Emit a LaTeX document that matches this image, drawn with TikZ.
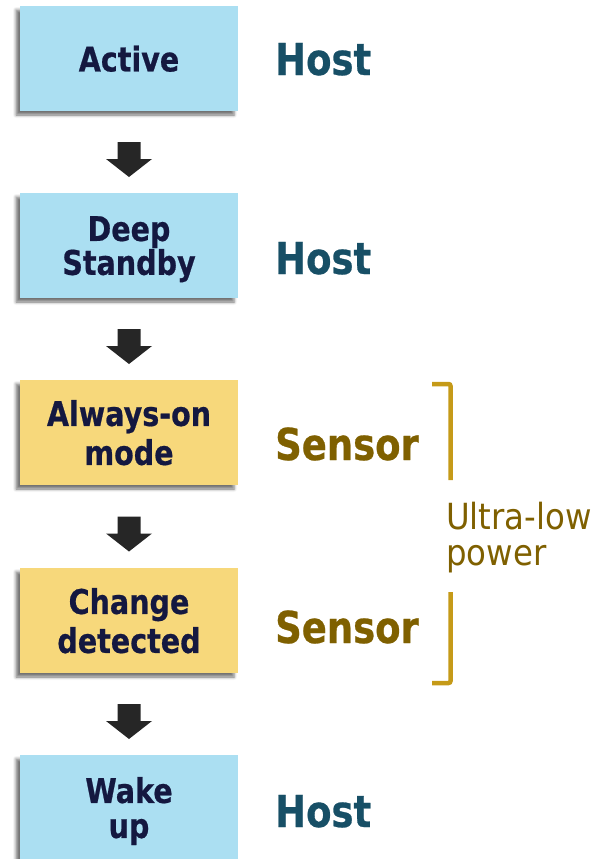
\documentclass[tikz,border=0pt]{standalone}
\usepackage{fontspec}
\setmainfont[FakeStretch=0.84, BoldFeatures={FakeBold=0.6}]{DejaVu Sans}
\newfontfamily\regfont[FakeStretch=0.9]{DejaVu Sans}
\usetikzlibrary{calc,shadows.blur}
\definecolor{boxblue}{HTML}{ABDFF2}
\definecolor{boxyellow}{HTML}{F7D87B}
\definecolor{boxtext}{HTML}{141840}
\definecolor{hostcol}{HTML}{174F66}
\definecolor{sensorcol}{HTML}{7F6000}
\definecolor{bracketcol}{HTML}{C59A18}
\definecolor{arrowcol}{HTML}{262626}
\tikzset{
  stagebox/.style={minimum width=218pt, minimum height=105pt, inner sep=0pt,
    align=center, text=boxtext, text depth=0pt, font=\bfseries\fontsize{34}{#1}\selectfont,
    blur shadow={shadow xshift=-4pt, shadow yshift=-4pt, shadow blur radius=3pt, shadow opacity=55}},
  hostbox/.style={stagebox=#1, fill=boxblue},
  sensbox/.style={stagebox=#1, fill=boxyellow},
  rolehost/.style={anchor=base west, inner sep=0pt, text=hostcol, font=\bfseries\fontsize{44}{44}\selectfont},
  rolesens/.style={anchor=base west, inner sep=0pt, text=sensorcol, font=\bfseries\fontsize{44}{44}\selectfont},
  bracketline/.style={draw=bracketcol, line width=4.5pt, rounded corners=2pt},
  flowarrow/.pic={\fill[arrowcol] (-11.5,-10) -- (11.5,-10) -- (11.5,7) -- (23,7) -- (0,25) -- (-23,7) -- (-11.5,7) -- cycle;}
}
\begin{document}
\begin{tikzpicture}[x=1pt, y=-1pt]
\useasboundingbox (0,0) rectangle (598,859);
\node[hostbox=31] (b1) at (129,58.5) {Active};
\node[hostbox=31] (b2) at (129,245.5) {Deep\\Standby};
\node[sensbox=39] (b3) at (129,432.5) {Always-on\\mode};
\node[sensbox=39] (b4) at (129,620.5) {Change\\detected};
\node[hostbox=35] (b5) at (129,807.5) {Wake\\up};

\node[rolehost] (r1) at (275,75) {Host};
\node[rolehost] (r2) at (275,274) {Host};
\node[rolesens] (r3) at (275,460) {Sensor};
\node[rolesens] (r4) at (275,643) {Sensor};
\node[rolehost] (r5) at (275,827) {Host};

\coordinate (m1) at ($(b1.south)!0.5!(b2.north)$);
\coordinate (m2) at ($(b2.south)!0.5!(b3.north)$);
\coordinate (m3) at ($(b3.south)!0.5!(b4.north)$);
\coordinate (m4) at ($(b4.south)!0.5!(b5.north)$);
\pic at (m1) {flowarrow};
\pic at (m2) {flowarrow};
\pic at (m3) {flowarrow};
\pic at (m4) {flowarrow};

\coordinate (k1a) at (432,384);
\coordinate (k1b) at (450.5,384);
\coordinate (k1c) at (450.5,480);
\coordinate (k2a) at (450.5,592);
\coordinate (k2b) at (450.5,683);
\coordinate (k2c) at (432,683);
\draw[bracketline] (k1a) -- (k1b) -- (k1c);
\draw[bracketline] (k2a) -- (k2b) -- (k2c);

\node[anchor=base west, inner sep=0pt, text=sensorcol, align=left,
  font=\regfont\fontsize{36}{36}\selectfont] (ulp) at (446,565) {Ultra-low\\power};
\end{tikzpicture}
\end{document}
